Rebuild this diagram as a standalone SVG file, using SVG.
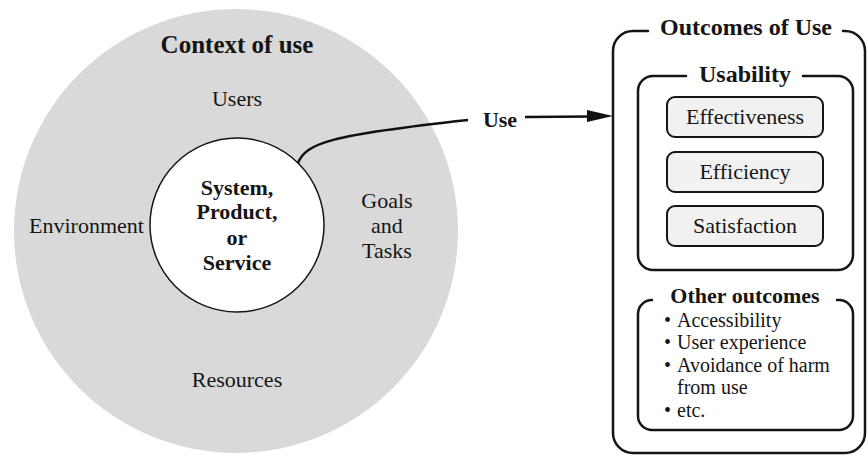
<svg xmlns="http://www.w3.org/2000/svg" width="868" height="456" viewBox="0 0 868 456">
  <style>
    text { font-family: 'Liberation Serif', 'DejaVu Serif', serif; fill: #151515; }
    .reg { font-size: 22px; }
    .bold { font-weight: bold; }
    .item { font-size: 20px; }
    .frame { fill: none; stroke: #151515; stroke-width: 2.5; stroke-linecap: round; }
    .pill { fill: #f1f1f1; stroke: #151515; stroke-width: 2; }
    .conn { fill: none; stroke: #111; stroke-width: 2.5; }
  </style>
  <rect width="868" height="456" fill="#ffffff"/>

  <!-- Context of use -->
  <g id="context">
    <circle cx="236" cy="231" r="222" fill="#d9d9d9"/>
    <text class="bold" x="237" y="53" font-size="25" text-anchor="middle">Context of use</text>
    <text class="reg" x="237" y="106" text-anchor="middle">Users</text>
    <text class="reg" x="29" y="233">Environment</text>
    <text class="reg" x="387" y="208" text-anchor="middle">Goals</text>
    <text class="reg" x="387" y="233" text-anchor="middle">and</text>
    <text class="reg" x="387" y="258" text-anchor="middle">Tasks</text>
    <text class="reg" x="237" y="387" text-anchor="middle">Resources</text>
  </g>

  <!-- System, Product, or Service -->
  <g id="system">
    <circle cx="237" cy="225" r="87" fill="#ffffff" stroke="#151515" stroke-width="1.5"/>
    <text class="bold" x="237" y="195" font-size="22" text-anchor="middle">System,</text>
    <text class="bold" x="237" y="219" font-size="22" text-anchor="middle">Product,</text>
    <text class="bold" x="237" y="245" font-size="22" text-anchor="middle">or</text>
    <text class="bold" x="237" y="270" font-size="22" text-anchor="middle">Service</text>
  </g>

  <!-- Use connector -->
  <g id="connectors">
    <path class="conn" d="M298,163 C306,143 330,135 468,120"/>
    <text class="bold" x="500" y="127" font-size="22" text-anchor="middle">Use</text>
    <line class="conn" x1="525" y1="117" x2="592" y2="116.5"/>
    <polygon points="587,110 613,116 587,122" fill="#111"/>
  </g>

  <!-- Outcomes of Use -->
  <g id="outcomes">
    <path class="frame" d="M648,31 H633 A20,20 0 0 0 613,51 V433 A20,20 0 0 0 633,453 H845 A20,20 0 0 0 865,433 V51 A20,20 0 0 0 845,31 H843"/>
    <text class="bold" x="746" y="35" font-size="24" text-anchor="middle">Outcomes of Use</text>
  </g>

  <!-- Usability -->
  <g id="usability">
    <path class="frame" d="M686,76 H653 A15,15 0 0 0 638,91 V255 A15,15 0 0 0 653,270 H838 A15,15 0 0 0 853,255 V91 A15,15 0 0 0 838,76 H803"/>
    <text class="bold" x="745" y="82" font-size="24" text-anchor="middle">Usability</text>
  </g>

  <g id="effectiveness">
    <rect class="pill" x="667" y="97" width="156" height="40" rx="8"/>
    <text class="reg" x="745" y="124" text-anchor="middle">Effectiveness</text>
  </g>
  <g id="efficiency">
    <rect class="pill" x="667" y="152" width="156" height="40" rx="8"/>
    <text class="reg" x="745" y="179" text-anchor="middle">Efficiency</text>
  </g>
  <g id="satisfaction">
    <rect class="pill" x="667" y="206" width="156" height="40" rx="8"/>
    <text class="reg" x="745" y="233" text-anchor="middle">Satisfaction</text>
  </g>

  <!-- Other outcomes -->
  <g id="other-outcomes">
    <path class="frame" d="M652,300 A14,14 0 0 0 638,314 V416 A14,14 0 0 0 652,430 H839 A14,14 0 0 0 853,416 V314 A14,14 0 0 0 839,300 H837"/>
    <text class="bold" x="745" y="303" font-size="22" text-anchor="middle">Other outcomes</text>
    <text class="item" x="664" y="327">•</text>
    <text class="item" x="677" y="327">Accessibility</text>
    <text class="item" x="664" y="349">•</text>
    <text class="item" x="677" y="349">User experience</text>
    <text class="item" x="664" y="372">•</text>
    <text class="item" x="677" y="372">Avoidance of harm</text>
    <text class="item" x="677" y="394">from use</text>
    <text class="item" x="664" y="417">•</text>
    <text class="item" x="677" y="417">etc.</text>
  </g>
</svg>
